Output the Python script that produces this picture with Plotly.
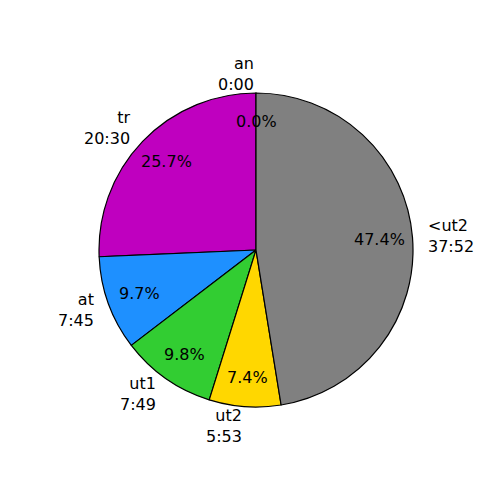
import numpy as np
import plotly.graph_objects as go

# slices, counterclockwise from 12 o'clock
labels = ["an", "tr", "at", "ut1", "ut2", "<ut2"]
times = ["0:00", "20:30", "7:45", "7:49", "5:53", "37:52"]
seconds = [0, 1230, 465, 469, 353, 2272]
colors = ["#FF0000", "#BF00BF", "#1E90FF", "#32CD32", "#FFD700", "#808080"]

W = H = 500
PAGE_MARGIN = 8  # default <body> margin shifts the figure
CX, CY, R = 256 - PAGE_MARGIN, 250 - PAGE_MARGIN, 157  # pie centre / radius in figure px
RX, RY = 155, 160  # the original pie is a touch taller than wide; used for text placement
LABEL_DIST, PCT_DIST = 1.1, 0.8
FONT = dict(family="DejaVu Sans", size=16, color="black")

fig = go.Figure(
    go.Pie(
        values=seconds,
        labels=labels,
        sort=False,
        direction="counterclockwise",
        rotation=0,
        marker=dict(colors=colors, line=dict(color="black", width=1.2)),
        textinfo="none",
        hoverinfo="label+percent",
        showlegend=False,
        domain=dict(x=[(CX - R) / W, (CX + R) / W], y=[(H - CY - R) / H, (H - CY + R) / H]),
    )
)

# matplotlib-style labels: name/time outside, percentage inside
total = sum(seconds)
cum = 0.0
for lab, t, v in zip(labels, times, seconds):
    frac = v / total
    theta = np.deg2rad(90 + 360 * (cum + frac / 2))
    cum += frac
    dx, dy = np.cos(theta), np.sin(theta)
    side = "left" if round(dx, 6) > 0 else "right"
    fig.add_annotation(
        x=(CX + LABEL_DIST * RX * dx) / W, y=(H - CY + LABEL_DIST * RY * dy) / H,
        xref="paper", yref="paper", text=f"{lab}<br>{t}", showarrow=False,
        xanchor=side, yanchor="middle", align=side, font=FONT,
    )
    fig.add_annotation(
        x=(CX + PCT_DIST * RX * dx) / W, y=(H - CY + PCT_DIST * RY * dy) / H,
        xref="paper", yref="paper", text=f"{100 * frac:.1f}%", showarrow=False,
        xanchor="center", yanchor="middle", font=FONT,
    )

fig.update_layout(
    width=W, height=H,
    margin=dict(l=0, r=0, t=0, b=0),
    paper_bgcolor="white", plot_bgcolor="white",
)
fig.write_html("out.html")
